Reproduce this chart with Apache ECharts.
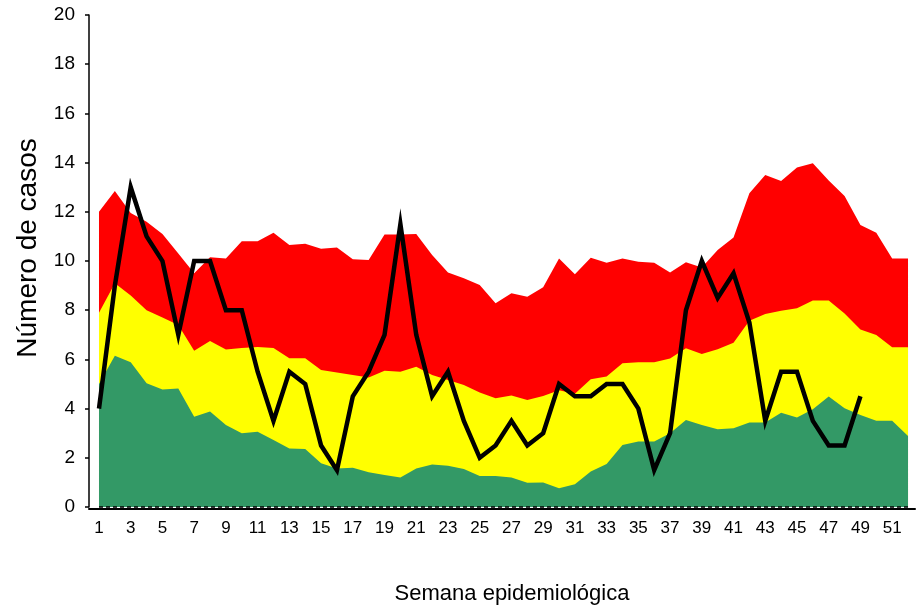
<!DOCTYPE html>
<html lang="es">
<head>
<meta charset="UTF-8">
<title>Canal endémico</title>
<script src="https://cdn.jsdelivr.net/npm/echarts@6/dist/echarts.min.js"></script>
<style>
    * { margin: 0; padding: 0; }
    body { background: #fff; }
    #chart { width: 917px; height: 612px; }
</style>
</head>
<body>
<div id="chart"></div>
<script>
    // semanas epidemiologicas
    var weeks = [1, 2, 3, 4, 5, 6, 7, 8, 9, 10, 11, 12, 13, 14, 15, 16, 17, 18, 19, 20,
        21, 22, 23, 24, 25, 26, 27, 28, 29, 30, 31, 32, 33, 34, 35, 36, 37, 38, 39, 40,
        41, 42, 43, 44, 45, 46, 47, 48, 49, 50, 51, 52];
    var weekLabels = [1, 3, 5, 7, 9, 11, 13, 15, 17, 19, 21, 23, 25, 27, 29, 31, 33, 35,
        37, 39, 41, 43, 45, 47, 49, 51];

    // limite superior de cada zona (acumulado)
    var greenTop = [5.0, 6.15, 5.88, 5.03, 4.78, 4.82, 3.67, 3.88, 3.33, 3.0, 3.06, 2.72, 2.38,
        2.36, 1.78, 1.57, 1.6, 1.41, 1.3, 1.2, 1.57, 1.73, 1.68, 1.54, 1.26, 1.26, 1.2, 0.99,
        1.0, 0.76, 0.92, 1.44, 1.75, 2.52, 2.66, 2.66, 3.0, 3.54, 3.33, 3.16, 3.2, 3.43, 3.43,
        3.83, 3.64, 3.97, 4.49, 4.01, 3.74, 3.51, 3.51, 2.89];
    var yellowTop = [7.9, 9.1, 8.6, 8.0, 7.7, 7.4, 6.35, 6.75, 6.4, 6.46, 6.5, 6.46, 6.05,
        6.05, 5.57, 5.47, 5.37, 5.26, 5.54, 5.5, 5.7, 5.37, 5.16, 4.96, 4.65, 4.42, 4.53, 4.35,
        4.51, 4.75, 4.6, 5.19, 5.3, 5.84, 5.88, 5.88, 6.04, 6.45, 6.22, 6.41, 6.68, 7.57, 7.85,
        7.98, 8.08, 8.39, 8.39, 7.87, 7.22, 6.99, 6.49, 6.49];
    var redTop = [12.0, 12.85, 11.95, 11.6, 11.1, 10.3, 9.5, 10.15, 10.1, 10.8, 10.8, 11.15,
        10.65, 10.7, 10.5, 10.55, 10.07, 10.04, 11.08, 11.08, 11.1, 10.24, 9.53, 9.3, 9.02,
        8.28, 8.69, 8.55, 8.93, 10.1, 9.46, 10.13, 9.93, 10.1, 9.97, 9.93, 9.53, 9.95, 9.74,
        10.45, 10.96, 12.75, 13.5, 13.25, 13.8, 13.97, 13.27, 12.64, 11.46, 11.15, 10.1, 10.1];

    // casos observados
    var cases = [4, 9, 13, 11, 10, 7, 10, 10, 8, 8, 5.5, 3.5, 5.5, 5, 2.5, 1.5, 4.5, 5.5, 7,
        11.5, 7, 4.5, 5.5, 3.5, 2, 2.5, 3.5, 2.5, 3, 5, 4.5, 4.5, 5, 5, 4, 1.5, 3, 8, 10, 8.5,
        9.5, 7.5, 3.5, 5.5, 5.5, 3.5, 2.5, 2.5, 4.5];

    var yTicks = [0, 2, 4, 6, 8, 10, 12, 14, 16, 18, 20];

    function pairs(vals) {
        return vals.map(function (v, i) { return [weeks[i], v]; });
    }

    function band(name, color, vals) {
        return {
            name: name,
            type: 'line',
            data: pairs(vals),
            showSymbol: false,
            symbol: 'none',
            lineStyle: { width: 0 },
            areaStyle: { color: color, opacity: 1 },
            silent: true
        };
    }

    var font = '"Liberation Sans", Arial, sans-serif';

    var chart = echarts.init(document.getElementById('chart'));
    var greenSeries = band('Éxito', '#339966', greenTop);
    // linea punteada en cero
    greenSeries.markLine = {
        silent: true,
        symbol: 'none',
        label: { show: false },
        lineStyle: { color: '#000', type: [4, 3], width: 1.5 },
        data: [[{ coord: [weeks[0], 0] }, { coord: [weeks[weeks.length - 1], 0] }]]
    };

    chart.setOption({
        animation: false,
        grid: {
            left: 89,
            right: 2,
            top: 15,
            bottom: 105,
            containLabel: false,
            outerBoundsMode: 'none'
        },
        xAxis: {
            type: 'value',
            min: 0.37,
            max: 52.44,
            offset: 2,
            name: 'Semana epidemiológica',
            nameLocation: 'middle',
            nameGap: 74,
            nameTextStyle: { fontFamily: font, fontSize: 22, color: '#000', padding: [0, 0, 0, 20] },
            axisLine: { show: true, onZero: false, lineStyle: { color: '#000', width: 2 } },
            axisTick: { show: false },
            splitLine: { show: false },
            axisLabel: {
                customValues: weekLabels,
                fontFamily: font,
                fontSize: 17,
                color: '#000',
                margin: 11
            }
        },
        yAxis: {
            type: 'value',
            min: 0,
            max: 20,
            interval: 2,
            name: 'Número de casos',
            nameLocation: 'middle',
            nameGap: 47,
            nameTextStyle: { fontFamily: font, fontSize: 28, color: '#000', padding: [0, 0, 0, 26] },
            axisLine: { show: true, lineStyle: { color: '#000', width: 1.5 } },
            axisTick: { show: true, length: 4, lineStyle: { color: '#000', width: 1.5 } },
            splitLine: { show: false },
            axisLabel: {
                customValues: yTicks,
                fontFamily: font,
                fontSize: 19,
                color: '#000',
                margin: 14
            }
        },
        series: [
            band('Epidemia', '#ff0000', redTop),
            band('Alarma', '#ffff00', yellowTop),
            greenSeries,
            {
                name: 'Casos',
                type: 'line',
                data: pairs(cases),
                showSymbol: false,
                symbol: 'none',
                lineStyle: { color: '#000', width: 4.5, join: 'miter' },
                z: 5
            }
        ]
    });
</script>
</body>
</html>
